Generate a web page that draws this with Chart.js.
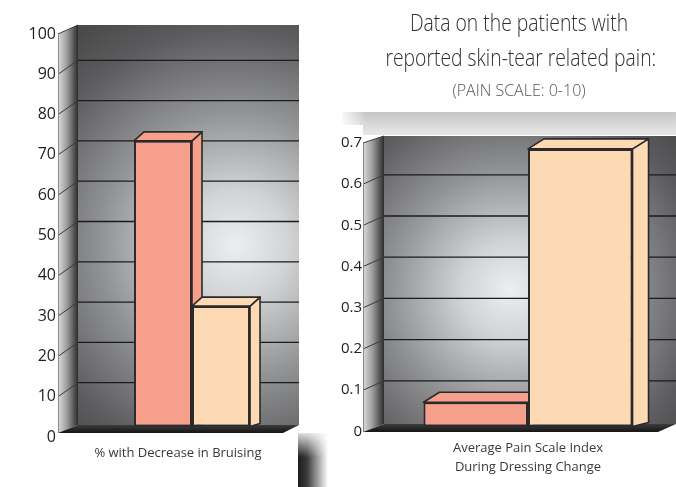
<!DOCTYPE html>
<html>
<head>
<meta charset="utf-8">
<script src="https://cdn.jsdelivr.net/npm/chart.js@4/dist/chart.umd.min.js"></script>
<style>
  html, body { margin: 0; padding: 0; background: #fff; }
  #wrap { position: relative; width: 676px; height: 487px; overflow: hidden; font-family: 'Open Sans', sans-serif; }
  canvas { position: absolute; top: 0; }
  #bruise { left: 0; }
  #pain { left: 320px; }
  .title { position: absolute; left: 360px; width: 318px; text-align: center; white-space: nowrap; }
  .big { font-size: 23px; line-height: 23px; color: #2e2e2e; font-weight: 300; transform: scaleX(0.84); }
  .small { font-size: 16px; line-height: 16px; color: #555; font-weight: 300; }
  #smudge { position: absolute; left: 298px; top: 433px; width: 30px; height: 54px;
    background: linear-gradient(to right, #1c1c1c 0%, #3a3a3a 30%, #fff 100%);
    -webkit-mask-image: linear-gradient(to bottom, rgba(0,0,0,0.15), #000 45%); }
</style>
</head>
<body>
<div id="wrap">
  <canvas id="bruise" width="306" height="487"></canvas>
  <canvas id="pain" width="356" height="487"></canvas>
  <div id="smudge"></div>
  <div class="title big" style="top:11px">Data on the patients with</div>
  <div class="title big" style="top:46px">reported skin-tear related pain:</div>
  <div class="title small" style="top:82px">(PAIN SCALE: 0-10)</div>
</div>
<script>
// --- data ---
const bruiseLabels = ['% with Decrease in Bruising'];
const bruiseFirst = [71];
const bruiseSecond = [30];
const bruiseTicks = { min: 0, max: 100, step: 10 };

const painLabels = [['Average Pain Scale Index', 'During Dressing Change']];
const painFirst = [0.06];
const painSecond = [0.675];
const painTicks = { min: 0, max: 0.7, step: 0.1 };

const salmon = '#f6a08b';
const peach = '#fdd9b4';
const edge = '#2a2a2a';

Chart.defaults.font.family = "'Open Sans', sans-serif";

// --- helpers ---
function poly(ctx, pts) {
  ctx.beginPath();
  pts.forEach((p, i) => i ? ctx.lineTo(p[0], p[1]) : ctx.moveTo(p[0], p[1]));
  ctx.closePath();
  ctx.fill();
  ctx.stroke();
}

// fake 3d room: back wall, side wall, floor, plus bar tops/sides
const room = {
  id: 'room',
  beforeDraw(chart, args, o) {
    const { ctx, chartArea: a, scales: { y } } = chart;
    const yMax = y.getPixelForValue(y.max);
    const top = yMax + o.wallShift;
    const frontTop = yMax + o.labelShift;
    const left = a.left, right = o.wallRight, front = left - o.sideW;
    ctx.save();

    if (o.band) {
      const bg = ctx.createLinearGradient(0, o.band[1], 0, o.band[3]);
      bg.addColorStop(0, '#c6c6c6');
      bg.addColorStop(1, '#e8e8e8');
      ctx.fillStyle = bg;
      ctx.fillRect(o.band[0], o.band[1], right - o.band[0], o.band[2] - o.band[1]);
      ctx.fillRect(front, o.band[2], right - front, o.band[3] - o.band[2]);
      const fade = ctx.createLinearGradient(o.band[0], 0, o.band[0] + 24, 0);
      fade.addColorStop(0, 'rgba(255,255,255,0.9)');
      fade.addColorStop(1, 'rgba(255,255,255,0)');
      ctx.fillStyle = fade;
      ctx.fillRect(o.band[0], o.band[1], 24, o.band[2] - o.band[1]);
    }

    // back wall
    const [cx, cy, r] = o.glow;
    const g = ctx.createRadialGradient(cx, cy, 0, cx, cy, r);
    g.addColorStop(0, '#eceef0');
    g.addColorStop(0.2, '#d2d3d5');
    g.addColorStop(0.5, '#919294');
    g.addColorStop(0.8, '#5c5c5e');
    g.addColorStop(1, '#474748');
    ctx.fillStyle = g;
    ctx.fillRect(left, top, right - left, o.floorBack - top);

    // grid on back wall
    ctx.strokeStyle = '#1b1b1b';
    ctx.lineWidth = 1.3;
    y.ticks.forEach(t => {
      if (t.value <= y.min || t.value >= y.max) return;
      const py = y.getPixelForValue(t.value) + o.gridShift;
      ctx.beginPath(); ctx.moveTo(left, py); ctx.lineTo(right, py); ctx.stroke();
    });

    // side wall
    const sg = ctx.createLinearGradient(front, 0, left, 0);
    sg.addColorStop(0, '#dcdcdc');
    sg.addColorStop(0.45, '#9c9c9c');
    sg.addColorStop(1, '#2c2c2c');
    ctx.fillStyle = sg;
    ctx.beginPath();
    ctx.moveTo(front, frontTop); ctx.lineTo(left, top);
    ctx.lineTo(left, o.floorBack); ctx.lineTo(front, o.floorFront);
    ctx.closePath(); ctx.fill();

    ctx.strokeStyle = '#3a3a3a';
    ctx.lineWidth = 1;
    y.ticks.forEach(t => {
      if (t.value <= y.min) return;
      const p = y.getPixelForValue(t.value);
      const back = t.value >= y.max ? top : p + o.gridShift;
      ctx.beginPath(); ctx.moveTo(front, p + o.labelShift); ctx.lineTo(left, back); ctx.stroke();
    });
    ctx.strokeStyle = '#8a8a8a';
    ctx.beginPath(); ctx.moveTo(front + 0.5, frontTop); ctx.lineTo(front + 0.5, o.floorFront); ctx.stroke();

    // floor
    const fg = ctx.createLinearGradient(0, o.floorBack, 0, o.floorFront);
    fg.addColorStop(0, '#3c3c3c');
    fg.addColorStop(1, '#151515');
    ctx.fillStyle = fg;
    ctx.beginPath();
    ctx.moveTo(front, o.floorFront); ctx.lineTo(left, o.floorBack);
    ctx.lineTo(right, o.floorBack); ctx.lineTo(right - o.floorCut, o.floorFront);
    ctx.closePath(); ctx.fill();
    ctx.restore();
  },
  beforeDatasetsDraw(chart, args, o) {
    const { ctx } = chart;
    ctx.save();
    ctx.strokeStyle = edge;
    ctx.lineWidth = 1.6;
    ctx.lineJoin = 'round';
    chart.data.datasets.forEach((ds, i) => {
      chart.getDatasetMeta(i).data.forEach(bar => {
        const l = bar.x - bar.width / 2, rr = bar.x + bar.width / 2, t = bar.y, b = bar.base;
        ctx.fillStyle = ds.backgroundColor;
        poly(ctx, [[rr, t], [rr + o.dx, t + o.dyT], [rr + o.dx, b + o.dyB], [rr, b]]);
        poly(ctx, [[l, t], [l + o.dx, t + o.dyT], [rr + o.dx, t + o.dyT], [rr, t]]);
      });
    });
    ctx.restore();
  }
};

function makeChart(id, labels, first, second, ticks, geo) {
  const bar = { borderColor: edge, borderWidth: 2, borderSkipped: false,
    categoryPercentage: geo.catPct, barPercentage: 1 };
  return new Chart(document.getElementById(id), {
    type: 'bar',
    data: {
      labels,
      datasets: [
        Object.assign({ data: first, backgroundColor: salmon }, bar),
        Object.assign({ data: second, backgroundColor: peach }, bar)
      ]
    },
    options: {
      responsive: false,
      animation: false,
      layout: { autoPadding: false, padding: { top: geo.top, right: geo.padRight, left: 0, bottom: 0 } },
      plugins: { legend: { display: false }, tooltip: { enabled: false }, room: geo.room },
      scales: {
        x: {
          grid: { display: false, drawTicks: false },
          border: { display: false },
          ticks: { color: '#3a3a3a', font: { size: 13, lineHeight: 1.45 }, padding: geo.xPad,
            labelOffset: geo.xShift, maxRotation: 0, autoSkip: false },
          afterFit: s => { s.height = 60; }
        },
        y: {
          min: ticks.min, max: ticks.max,
          // invisible tick marks hold the labels away from the wall
          grid: { display: true, color: 'rgba(0,0,0,0)', drawOnChartArea: false, drawTicks: true, tickLength: 20 },
          border: { display: false },
          ticks: { stepSize: ticks.step, color: '#222', font: { size: geo.yFont },
            padding: 2, labelOffset: geo.room.labelShift },
          afterFit: s => { s.width = geo.yWidth; }
        }
      }
    },
    plugins: [room]
  });
}

makeChart('bruise', bruiseLabels, bruiseFirst, bruiseSecond, bruiseTicks, {
  top: 24, padRight: 0, yWidth: 78, catPct: 0.509, xPad: 17, xShift: -14, yFont: 16,
  room: { sideW: 20, wallRight: 299, wallShift: 1, labelShift: 10, gridShift: -4,
    floorBack: 425, floorFront: 433, floorCut: 16, dx: 10, dyT: -9, dyB: -3,
    glow: [235, 245, 270] }
});

makeChart('pain', painLabels, painFirst, painSecond, painTicks, {
  top: 138.6, padRight: 4, yWidth: 64, catPct: 0.726, xPad: 12, xShift: 0, yFont: 15,
  room: { sideW: 21, wallRight: 356, wallShift: -2.6, labelShift: 4.4, gridShift: -5,
    floorBack: 424, floorFront: 432, floorCut: 18, dx: 16, dyT: -10, dyB: -4,
    glow: [190, 290, 240], band: [22, 112, 125, 135] }
});
</script>
</body>
</html>
